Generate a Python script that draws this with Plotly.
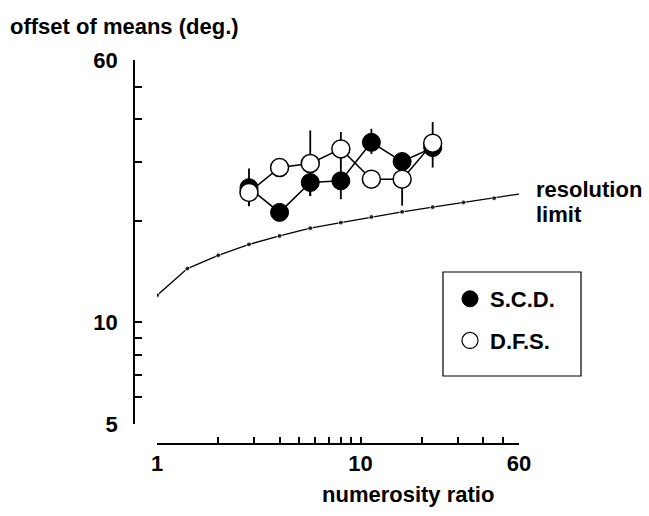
import plotly.graph_objects as go
import math

# ---- data ----
res_x = [1, 1.41, 2, 2.83, 4, 5.66, 8, 11.3, 16, 22.6, 32, 45.3, 60]
res_y = [12.03, 14.45, 15.81, 17.04, 18.05, 19.03, 19.77, 20.56, 21.28, 21.97, 22.7, 23.34, 24.03]

ratio_x = [2.83, 4, 5.66, 8, 11.3, 16, 22.6]

scd_y = [25.1, 21.2, 26.0, 26.3, 34.2, 30.0, 33.0]
scd_err_plus = [3.5, 1.2, 2.3, 3.0, 3.3, 2.0, 3.0]
scd_err_minus = [3.0, 1.2, 2.3, 3.1, 2.6, 2.0, 4.2]

dfs_y = [24.3, 28.8, 29.6, 32.7, 26.6, 26.6, 34.0]
dfs_err_plus = [2.0, 1.5, 7.5, 4.0, 1.5, 5.4, 5.3]
dfs_err_minus = [2.1, 1.5, 5.9, 3.5, 1.5, 4.4, 3.0]

x_ticks = [1, 10, 60]
x_tick_text = ["1", "10", "60"]
x_minor = [2, 3, 4, 5, 6, 7, 8, 9, 20, 30, 40, 50]
x_long = [1, 10]
y_ticks = [5, 10, 60]
y_tick_text = ["5", "10", "60"]
y_minor = [6, 7, 8, 9, 20, 30, 40, 50]
y_long = [10]

FONT = "Liberation Sans, Arial, Helvetica, sans-serif"
FS = 22
W, H = 649, 516
ML, MR, MT, MB = 134, 130, 60, 72
PW = W - ML - MR
PH = H - MT - MB


def px_x(p):
    return (p - ML) / PW


def px_y(p):
    return (H - MB - p) / PH


fig = go.Figure()

# resolution limit
fig.add_trace(go.Scatter(
    x=res_x, y=res_y, mode="lines+markers",
    line=dict(color="black", width=1.3),
    marker=dict(size=[5] * (len(res_x) - 1) + [0], color="black"),
    showlegend=False, hoverinfo="skip"))

# S.C.D.
fig.add_trace(go.Scatter(
    x=ratio_x, y=scd_y, mode="lines+markers",
    line=dict(color="black", width=1.5),
    marker=dict(size=18, color="black", line=dict(color="black", width=1)),
    error_y=dict(type="data", symmetric=False, array=scd_err_plus,
                 arrayminus=scd_err_minus, color="black", thickness=1.8, width=0),
    showlegend=False))

# D.F.S.
fig.add_trace(go.Scatter(
    x=ratio_x, y=dfs_y, mode="lines+markers",
    line=dict(color="black", width=1.5),
    marker=dict(size=18, color="white", line=dict(color="black", width=1.5)),
    error_y=dict(type="data", symmetric=False, array=dfs_err_plus,
                 arrayminus=dfs_err_minus, color="black", thickness=1.8, width=0),
    showlegend=False))

# legend entries
fig.add_trace(go.Scatter(
    x=[None], y=[None], mode="markers", name="S.C.D.", legendgroup="a",
    marker=dict(size=17, color="black", line=dict(color="black", width=1))))
fig.add_trace(go.Scatter(
    x=[None], y=[None], mode="markers", name="D.F.S.", legendgroup="b",
    marker=dict(size=17, color="white", line=dict(color="black", width=1.2))))

xr = [math.log10(1), math.log10(60)]
yr = [math.log10(5), math.log10(60)]

axis_common = dict(showgrid=False, zeroline=False, linecolor="black", linewidth=1.5,
                   tickcolor="black", tickwidth=1.5)

fig.update_layout(
    width=W, height=H,
    margin=dict(l=ML, r=MR, t=MT, b=MB),
    paper_bgcolor="white", plot_bgcolor="white",
    font=dict(family=FONT, color="black", size=FS, weight="bold"),
    title=dict(text="offset of means (deg.)", x=10 / W, xanchor="left", xref="container",
               y=1 - 26 / H, yanchor="middle", yref="container",
               font=dict(family=FONT, size=FS, weight="bold", color="black")),
    xaxis=dict(type="log", range=xr, domain=[px_x(157), 1], anchor="free", position=0,
               showline=True, ticks="inside", ticklen=6, tickvals=x_ticks, ticktext=x_tick_text,
               tickfont=dict(family=FONT, size=FS, weight="bold"), ticklabelstandoff=0,
               minor=dict(tickvals=x_minor, ticks="inside", ticklen=6, tickcolor="black", tickwidth=1.5),
               **axis_common),
    xaxis2=dict(type="log", range=xr, overlaying="x", anchor="free", position=0, side="bottom",
                showline=False, ticks="inside", ticklen=12, tickvals=x_long,
                showticklabels=False, showgrid=False, zeroline=False,
                tickcolor="black", tickwidth=1.5),
    yaxis=dict(type="log", range=yr, domain=[px_y(424), 1], anchor="free", position=0,
               showline=True, ticks="inside", ticklen=7, tickvals=y_ticks, ticktext=y_tick_text,
               tickfont=dict(family=FONT, size=FS, weight="bold"), ticklabelstandoff=11,
               minor=dict(tickvals=y_minor, ticks="inside", ticklen=7, tickcolor="black", tickwidth=1.5),
               **axis_common),
    yaxis2=dict(type="log", range=yr, overlaying="y", anchor="free", position=0, side="left",
                showline=False, ticks="inside", ticklen=15, tickvals=y_long,
                showticklabels=False, showgrid=False, zeroline=False,
                tickcolor="black", tickwidth=1.5),
    legend=dict(x=px_x(450), y=px_y(278), xanchor="left", yanchor="top",
                bgcolor="rgba(0,0,0,0)", borderwidth=0,
                font=dict(family=FONT, size=FS, weight="bold"),
                traceorder="grouped", tracegroupgap=10, itemsizing="trace"),
    showlegend=True,
)

fig.add_shape(type="rect", xref="paper", yref="paper",
              x0=px_x(443), x1=px_x(581), y0=px_y(376), y1=px_y(272),
              line=dict(color="black", width=1.2), fillcolor="rgba(0,0,0,0)")

fig.add_annotation(text="numerosity ratio", xref="paper", yref="paper",
                   x=px_x(407.5), y=px_y(494), xanchor="center", yanchor="middle",
                   showarrow=False, font=dict(family=FONT, size=FS, weight="bold"))
fig.add_annotation(text="resolution", xref="paper", yref="paper",
                   x=px_x(534), y=px_y(189), xanchor="left", yanchor="middle",
                   showarrow=False, font=dict(family=FONT, size=FS, weight="bold"))
fig.add_annotation(text="limit", xref="paper", yref="paper",
                   x=px_x(534), y=px_y(214), xanchor="left", yanchor="middle",
                   showarrow=False, font=dict(family=FONT, size=FS, weight="bold"))

fig.write_html("out.html")
